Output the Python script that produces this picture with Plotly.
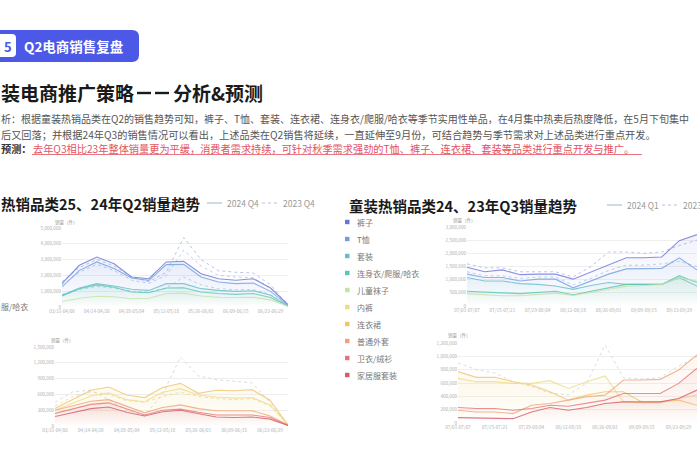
import plotly.graph_objects as go

W, H = 700, 470
FONT = "Noto Sans CJK SC"


def px(x):
    return x / W


def py(y):
    return 1 - y / H


# ---------------- data ----------------
categories = ["裤子", "T恤", "套装", "连身衣/爬服/哈衣", "儿童袜子",
              "内裤", "连衣裙", "普通外套", "卫衣/绒衫", "家居服套装"]
cat_colors = ["#6b74d6", "#6f9fe0", "#66bccb", "#58c6b0", "#c4e2a4",
              "#eedc84", "#f1c46c", "#f0a274", "#e27676", "#d65a6a"]

q2_weeks = ["03/31-04/06", "04/07-04/13", "04/14-04/20", "04/21-04/27",
            "04/28-05/04", "05/05-05/11", "05/12-05/18", "05/19-05/25",
            "05/26-06/01", "06/02-06/08", "06/09-06/15", "06/16-06/22",
            "06/23-06/29", "06/30-07/06"]
q3_weeks = ["07/01-07/07", "07/08-07/14", "07/15-07/21", "07/22-07/28",
            "07/29-08/04", "08/05-08/11", "08/12-08/18", "08/19-08/25",
            "08/26-09/01", "09/02-09/08", "09/09-09/15", "09/16-09/22",
            "09/23-09/29", "09/30-10/06"]

# Q2 top chart (2025 solid)
q2_kuzi = [1480000, 2640000, 3160000, 2740000, 1900000, 1790000, 2850000,
           2890000, 2110000, 1790000, 1690000, 1790000, 1200000, 150000]
q2_txu = [1270000, 2320000, 2850000, 2430000, 1840000, 1690000, 2680000,
          2700000, 1900000, 1580000, 1480000, 1520000, 990000, 100000]
q2_taozhuang = [740000, 1200000, 1480000, 1330000, 1120000, 1050000, 1480000,
                1480000, 1160000, 1050000, 990000, 1030000, 740000, 60000]
q2_lianshen = [700000, 1150000, 1400000, 1250000, 950000, 900000, 1200000,
               1220000, 950000, 850000, 800000, 850000, 600000, 50000]
q2_wazi = [350000, 550000, 680000, 650000, 520000, 550000, 850000,
           880000, 700000, 620000, 600000, 620000, 450000, 50000]
# Q2 top chart (2024 dashed)
q2_kuzi_prev = [1600000, 2500000, 3000000, 2600000, 1900000, 1600000, 2200000,
                4400000, 3000000, 2300000, 2200000, 2150000, 1400000, 100000]
q2_txu_prev = [1400000, 2200000, 2700000, 2300000, 1700000, 1500000, 2000000,
               3600000, 2600000, 2000000, 1900000, 1850000, 1200000, 80000]
q2_taozhuang_prev = [800000, 1100000, 1300000, 1200000, 1000000, 950000, 1200000,
                     1900000, 1400000, 1150000, 1100000, 1100000, 800000, 50000]

# Q2 bottom chart (2025 solid)
q2_lianyiqun = [334000, 510000, 680000, 740000, 590000, 540000, 730000,
                810000, 620000, 680000, 670000, 690000, 490000, 20000]
q2_neiku = [300000, 440000, 570000, 630000, 500000, 460000, 640000,
            710000, 590000, 550000, 530000, 540000, 400000, 20000]
q2_waitao = [300000, 390000, 470000, 500000, 380000, 250000, 350000,
             400000, 330000, 290000, 290000, 290000, 190000, 20000]
q2_weiyi = [240000, 330000, 410000, 440000, 320000, 210000, 300000,
            320000, 260000, 210000, 210000, 210000, 160000, 10000]
q2_jiaju = [180000, 260000, 330000, 360000, 260000, 190000, 270000,
            300000, 230000, 170000, 160000, 170000, 130000, 10000]
# Q2 bottom chart (2024 dashed)
q2_lianyiqun_prev = [450000, 650000, 680000, 500000, 300000, 200000, 600000,
                     1310000, 950000, 880000, 850000, 820000, 450000, 20000]
q2_neiku_prev = [380000, 560000, 650000, 600000, 480000, 450000, 560000,
                 640000, 560000, 520000, 500000, 520000, 380000, 20000]

# Q3 top chart (2024 solid)
q3_kuzi = [1470000, 1300000, 1370000, 1190000, 1210000, 1210000, 1020000,
           1280000, 1540000, 1830000, 1830000, 1860000, 2480000, 2710000]
q3_txu = [1210000, 1080000, 1080000, 950000, 1020000, 1020000, 690000,
          950000, 1210000, 1410000, 1410000, 1430000, 1830000, 1370000]
q3_taozhuang = [1080000, 950000, 950000, 850000, 820000, 760000, 630000,
                780000, 890000, 820000, 820000, 820000, 1080000, 760000]
q3_lianshen = [560000, 520000, 500000, 470000, 520000, 560000, 430000,
               560000, 690000, 820000, 820000, 820000, 1150000, 890000]
q3_wazi = [470000, 430000, 390000, 390000, 430000, 490000, 400000,
           520000, 650000, 750000, 780000, 820000, 1080000, 950000]
# Q3 top chart (2023 dashed)
q3_kuzi_prev = [1600000, 1450000, 1450000, 1300000, 1300000, 1300000, 1100000,
                1500000, 2050000, 2050000, 2000000, 2050000, 2300000, 2500000]
q3_txu_prev = [1300000, 1150000, 1150000, 1050000, 1100000, 1100000, 800000,
               1050000, 1350000, 1550000, 1550000, 1600000, 1700000, 1500000]

# Q3 bottom chart (2024 solid)
q3_lianyiqun = [771000, 685000, 685000, 620000, 569000, 469000, 343000,
                418000, 469000, 469000, 317000, 317000, 343000, 267000]
q3_neiku = [670000, 620000, 620000, 594000, 594000, 635000, 519000,
            620000, 705000, 317000, 302000, 302000, 368000, 420000]
q3_waitao = [191000, 166000, 166000, 141000, 267000, 292000, 343000,
             393000, 418000, 645000, 645000, 655000, 796000, 1023000]
q3_weiyi = [232000, 217000, 217000, 191000, 217000, 267000, 252000,
            292000, 343000, 443000, 443000, 443000, 594000, 821000]
q3_jiaju = [81000, 76000, 76000, 65000, 166000, 232000, 191000,
            232000, 292000, 317000, 317000, 317000, 368000, 494000]
# Q3 bottom chart (2023 dashed)
q3_lianyiqun_prev = [900000, 800000, 750000, 620000, 550000, 450000, 420000,
                     600000, 1170000, 680000, 660000, 680000, 850000, 1000000]

# tick values
lt_ticks = [0, 1000000, 2000000, 3000000, 4000000, 5000000]
lb_ticks = [0, 300000, 600000, 900000, 1200000, 1500000]
rt_ticks = [0, 500000, 1000000, 1500000, 2000000, 2500000, 3000000]
rb_ticks = [0, 200000, 400000, 600000, 800000, 1000000, 1200000]


def hex2rgb(h):
    h = h.lstrip("#")
    return tuple(int(h[i:i + 2], 16) for i in (0, 2, 4))


def rgba(h, a):
    r, g, b = hex2rgb(h)
    return f"rgba({r},{g},{b},{a})"


fig = go.Figure()

panels = [
    ("", q2_weeks,
     [q2_kuzi, q2_txu, q2_taozhuang, q2_lianshen, q2_wazi],
     [q2_kuzi_prev, q2_txu_prev, q2_taozhuang_prev], [0, 1, 2, 3, 4]),
    ("2", q2_weeks,
     [q2_lianyiqun, q2_neiku, q2_waitao, q2_weiyi, q2_jiaju],
     [q2_lianyiqun_prev, q2_neiku_prev], [6, 5, 7, 8, 9]),
    ("3", q3_weeks,
     [q3_kuzi, q3_txu, q3_taozhuang, q3_lianshen, q3_wazi],
     [q3_kuzi_prev, q3_txu_prev], [0, 1, 2, 3, 4]),
    ("4", q3_weeks,
     [q3_lianyiqun, q3_neiku, q3_waitao, q3_weiyi, q3_jiaju],
     [q3_lianyiqun_prev], [6, 5, 7, 8, 9]),
]

dash_cols = {"": ["#a9b4e6", "#a9c6ec", "#9fd6dc"],
             "2": ["#c9d3df", "#efd98a"],
             "3": ["#a9b4e6", "#a9c6ec"],
             "4": ["#cfd4dc"]}

for suf, weeks, solids, dashes, cidx in panels:
    xa = "x" + suf
    ya = "y" + suf
    for j, s in enumerate(dashes):
        fig.add_trace(go.Scatter(
            x=weeks, y=s, mode="lines", xaxis=xa, yaxis=ya,
            line=dict(color=dash_cols[suf][j], width=0.8, dash="dot"),
            hoverinfo="skip", showlegend=False))
    for s, ci in zip(solids, cidx):
        col = cat_colors[ci]
        fig.add_trace(go.Scatter(
            x=weeks, y=s, mode="lines", xaxis=xa, yaxis=ya,
            line=dict(color=rgba(col, 0.8), width=1.1),
            fill="tozeroy",
            fillgradient=dict(type="vertical",
                              colorscale=[[0, rgba(col, 0.0)], [1, rgba(col, 0.09)]]),
            name=categories[ci], showlegend=False))

tickfont = dict(family=FONT, size=4.6, color="#b0b0b0")


def xax(domain, weeks, anchor):
    return dict(domain=domain, anchor=anchor, type="category",
                range=[0, len(weeks) - 1],
                tickmode="array", tickvals=weeks[0:13:2], ticktext=weeks[0:13:2],
                showgrid=False, zeroline=False, showline=False, ticks="",
                tickfont=tickfont, tickangle=0, fixedrange=True, automargin=False)


def yax(domain, ticks, anchor):
    return dict(domain=domain, anchor=anchor, range=[0, ticks[-1]],
                tickmode="array", tickvals=ticks, tickformat=",d",
                showgrid=True, gridcolor="#efefef", gridwidth=0.6,
                zeroline=False, showline=False, ticks="",
                tickfont=tickfont, fixedrange=True, automargin=False)


fig.update_layout(
    width=W, height=H, margin=dict(l=0, r=0, t=0, b=0, pad=0, autoexpand=False),
    paper_bgcolor="white", plot_bgcolor="rgba(0,0,0,0)",
    showlegend=False,
    xaxis=xax([px(62), px(288)], q2_weeks, "y"),
    yaxis=yax([py(307), py(228)], lt_ticks, "x"),
    xaxis2=xax([px(55), px(288)], q2_weeks, "y2"),
    yaxis2=yax([py(426), py(347)], lb_ticks, "x2"),
    xaxis3=xax([px(467), px(697)], q3_weeks, "y3"),
    yaxis3=yax([py(306), py(227)], rt_ticks, "x3"),
    xaxis4=xax([px(458), px(697)], q3_weeks, "y4"),
    yaxis4=yax([py(423), py(343)], rb_ticks, "x4"),
)

shapes = []
ann = []


def text(x, y, t, size, color="#555", anchor="left", bold=False):
    ann.append(dict(x=px(x), y=py(y), xref="paper", yref="paper",
                    text=("<b>" + t + "</b>") if bold else t,
                    showarrow=False, xanchor=anchor, yanchor="middle", borderpad=0,
                    font=dict(family=FONT, size=size, color=color)))


# badge
shapes.append(dict(type="path", xref="paper", yref="paper",
                   path=f"M {px(0)},{py(30)} L {px(132)},{py(30)} Q {px(139)},{py(30)} {px(139)},{py(37)} "
                        f"L {px(139)},{py(55)} Q {px(139)},{py(62)} {px(132)},{py(62)} L {px(0)},{py(62)} Z",
                   fillcolor="#4c58e6", line=dict(width=0)))
shapes.append(dict(type="path", xref="paper", yref="paper",
                   path=f"M {px(0)},{py(34)} L {px(12)},{py(34)} Q {px(16)},{py(34)} {px(16)},{py(38)} "
                        f"L {px(16)},{py(53)} Q {px(16)},{py(57)} {px(12)},{py(57)} L {px(0)},{py(57)} Z",
                   fillcolor="white", line=dict(width=0)))
text(3, 46, "5", 13, "#4c58e6", bold=True)
text(23, 46, "Q2电商销售复盘", 13.5, "white", bold=True)

# title (dashes drawn as two bars)
text(0, 92, "装电商推广策略", 19, "#1a1a1a", bold=True)
for (a, b) in [(137, 151), (155, 169)]:
    shapes.append(dict(type="line", xref="paper", yref="paper", x0=px(a), x1=px(b), y0=py(93), y1=py(93),
                       line=dict(color="#1a1a1a", width=2.4)))
text(172, 92, "分析&预测", 19, "#1a1a1a", bold=True)

# body text
text(0, 119, "析：根据童装热销品类在Q2的销售趋势可知，裤子、T恤、套装、连衣裙、连身衣/爬服/哈衣等季节实用性单品，在4月集中热卖后热度降低，在5月下旬集中",
     10.0, "#555")
text(0, 134, "后又回落；并根据24年Q3的销售情况可以看出，上述品类在Q2销售将延续，一直延伸至9月份，可结合趋势与季节需求对上述品类进行重点开发。",
     10.2, "#555")
text(0, 148, "预测：", 10.2, "#333", bold=True)
text(32, 148, "去年Q3相比23年整体销量更为平缓，消费者需求持续，可针对秋季需求强劲的T恤、裤子、连衣裙、套装等品类进行重点开发与推广。",
     10.2, "#e4525f")
shapes.append(dict(type="line", xref="paper", yref="paper", x0=px(32), x1=px(642), y0=py(154.5), y1=py(154.5),
                   line=dict(color="#e4525f", width=0.8)))

# section titles
text(0, 203, "热销品类25、24年Q2销量趋势", 14.5, "#1a1a1a", bold=True)
text(348, 205, "童装热销品类24、23年Q3销量趋势", 14.5, "#1a1a1a", bold=True)

# section legends
for (x0, yl, a, b) in [(207, 203, "2024 Q4", "2023 Q4"), (607, 205, "2024 Q1", "2023 Q1")]:
    shapes.append(dict(type="line", xref="paper", yref="paper", x0=px(x0), x1=px(x0 + 15), y0=py(yl), y1=py(yl),
                       line=dict(color="#9fb2cf", width=1)))
    text(x0 + 19, yl, a, 8.5, "#9a9a9a")
    shapes.append(dict(type="line", xref="paper", yref="paper", x0=px(x0 + 55), x1=px(x0 + 71), y0=py(yl), y1=py(yl),
                       line=dict(color="#b8c4d6", width=1, dash="dot")))
    text(x0 + 75, yl, b, 8.5, "#9a9a9a")

# category legend (right)
for i, (c, col) in enumerate(zip(categories, cat_colors)):
    yy = 222 + i * 17
    shapes.append(dict(type="rect", xref="paper", yref="paper", x0=px(345), x1=px(349.5),
                       y0=py(yy + 2.2), y1=py(yy - 2.2), fillcolor=col, line=dict(width=0)))
    text(356, yy, c, 8, "#777")

# cut-off legend on the left
text(0, 306, "服/哈衣", 8, "#777")

# axis titles
for (x, y) in [(54, 222), (50, 340), (452, 220), (447, 335)]:
    text(x, y, "销量（件）", 4.5, "#999")

fig.update_layout(shapes=shapes, annotations=ann)
fig.write_html("out.html", config={"displayModeBar": False},
               post_script="document.body.style.margin='0';document.body.style.padding='0';")
